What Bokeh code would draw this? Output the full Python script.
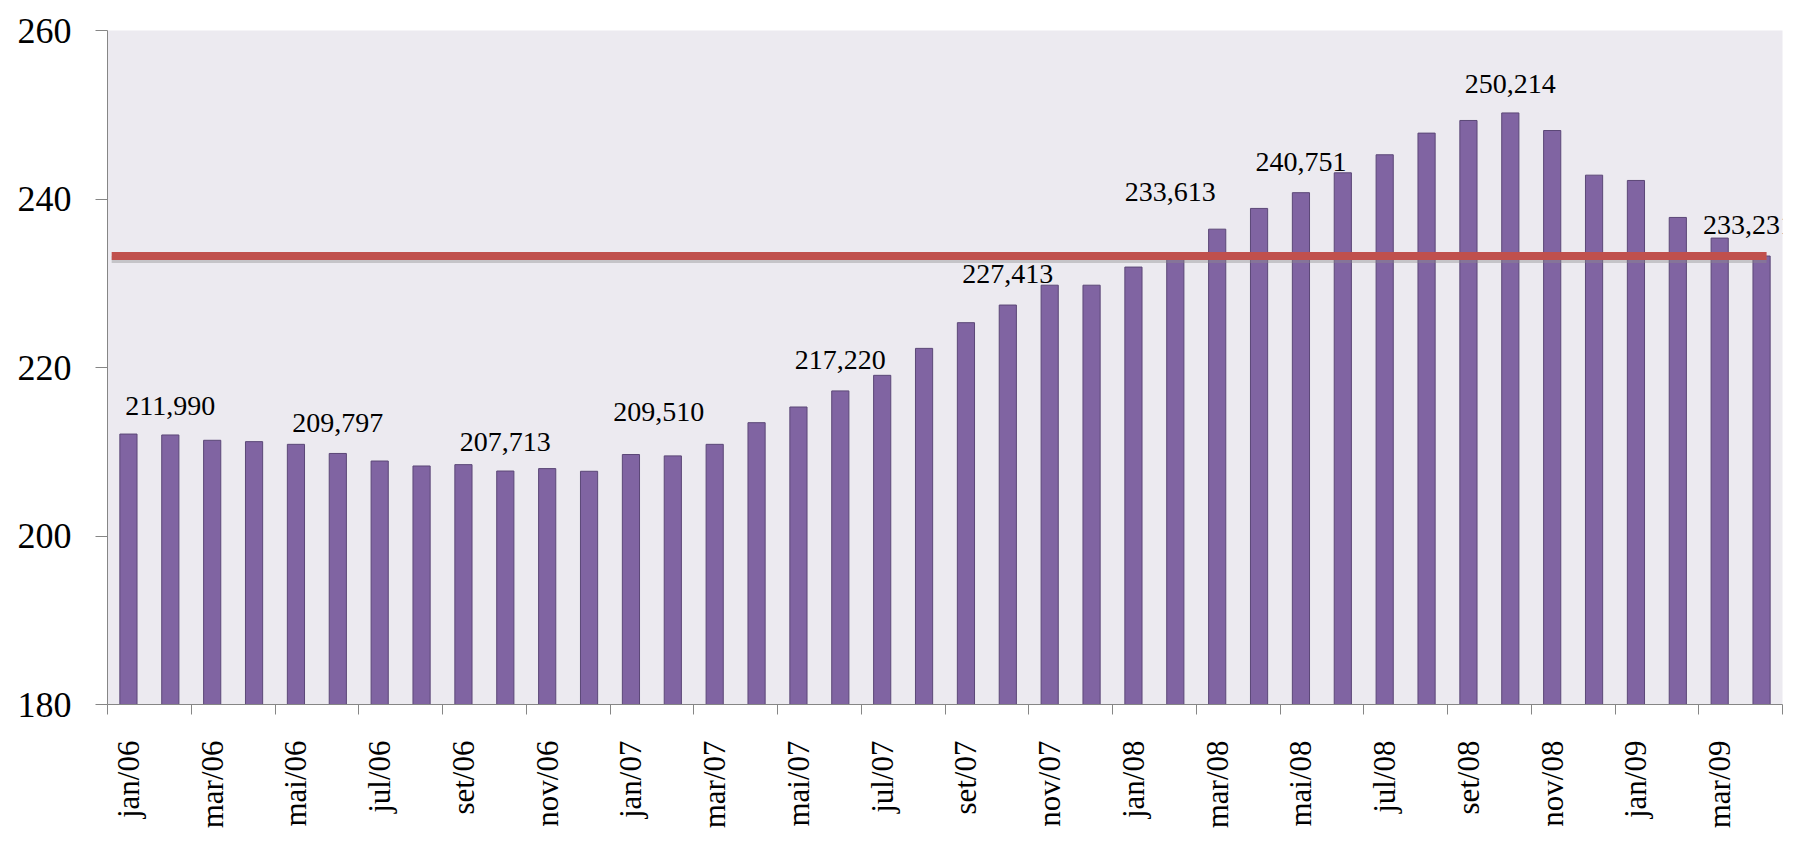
from bokeh.plotting import figure
from bokeh.models import ColumnDataSource, FixedTicker, LabelSet, Range1d
from bokeh.embed import file_html
from bokeh.resources import INLINE

months = ["jan/06", "fev/06", "mar/06", "abr/06", "mai/06", "jun/06", "jul/06", "ago/06",
          "set/06", "out/06", "nov/06", "dez/06",
          "jan/07", "fev/07", "mar/07", "abr/07", "mai/07", "jun/07", "jul/07", "ago/07",
          "set/07", "out/07", "nov/07", "dez/07",
          "jan/08", "fev/08", "mar/08", "abr/08", "mai/08", "jun/08", "jul/08", "ago/08",
          "set/08", "out/08", "nov/08", "dez/08",
          "jan/09", "fev/09", "mar/09", "abr/09"]

values = [212.10, 211.990, 211.36, 211.20, 210.88, 209.797, 208.90, 208.31,
          208.47, 207.713, 208.00, 207.68,
          209.67, 209.510, 210.88, 213.45, 215.31, 217.220, 219.07, 222.27,
          225.32, 227.413, 229.77, 229.77,
          231.92, 233.613, 236.42, 238.88, 240.751, 243.11, 245.25, 247.82,
          249.32, 250.214, 248.13, 242.83,
          242.20, 237.81, 235.36, 233.231]

label_index = [1, 5, 9, 13, 17, 21, 25, 28, 33, 39]
label_text = ["211,990", "209,797", "207,713", "209,510", "217,220",
              "227,413", "233,613", "240,751", "250,214", "233,231"]

y_ticks = [180, 200, 220, 240, 260]

# layout-only offsets for the value labels (pixels)
label_dx = [0, 0, 0, -14, 0, 0, -5, 0, 0, -13]
label_dy = [20, 21, 20, 35, 22, 22, 52, 22, 20, 22]

reference_value = values[-1]
n = len(months)
idx = list(range(n))

FONT = "Liberation Serif"

p = figure(width=1802, height=844, output_backend="svg", toolbar_location=None,
           x_range=Range1d(-0.5, n - 0.5), y_range=Range1d(y_ticks[0], y_ticks[-1]),
           min_border_left=107, min_border_right=20, min_border_top=30, min_border_bottom=140)

p.background_fill_color = "#ECEAF0"
p.border_fill_color = "white"
p.outline_line_color = None
p.xgrid.grid_line_color = None
p.ygrid.grid_line_color = None

src = ColumnDataSource(dict(x=idx, top=values))
p.vbar(x="x", top="top", bottom=y_ticks[0], width=0.41, source=src,
       fill_color="#8064A2", line_color="#5B4777", line_width=1)

# reference line at the last value, with a soft shadow
p.segment(x0=-0.4, y0=reference_value - 0.4, x1=n - 1 + 0.12, y1=reference_value - 0.4,
          line_color="#8c8c8c", line_alpha=0.4, line_width=7)
p.segment(x0=-0.4, y0=reference_value, x1=n - 1 + 0.12, y1=reference_value,
          line_color="#C0504D", line_width=8)

lab_src = ColumnDataSource(dict(
    x=label_index,
    y=[values[i] for i in label_index],
    text=label_text,
    dx=label_dx,
    dy=label_dy,
))
labels = LabelSet(x="x", y="y", text="text", source=lab_src,
                  x_offset="dx", y_offset="dy",
                  text_font=FONT, text_font_size="28px", text_color="black",
                  text_align="center", text_baseline="alphabetic")
p.add_layout(labels)

# x axis: labels on every other month, ticks at category boundaries
xa = p.xaxis[0]
xa.ticker = FixedTicker(ticks=list(range(0, n, 2)),
                        minor_ticks=[i - 0.5 for i in range(0, n + 1, 2)])
xa.major_label_overrides = {i: months[i] for i in range(0, n, 2)}
xa.major_label_orientation = 3.14159265 / 2
xa.major_tick_line_color = None
xa.minor_tick_line_color = "#868686"
xa.minor_tick_in = 0
xa.minor_tick_out = 10
xa.axis_line_color = "#868686"
xa.major_label_text_font = FONT
xa.major_label_text_font_size = "31px"
xa.major_label_text_color = "black"
xa.major_label_standoff = 26

ya = p.yaxis[0]
ya.ticker = FixedTicker(ticks=y_ticks)
ya.axis_line_color = "#868686"
ya.major_tick_line_color = "#868686"
ya.major_tick_in = 0
ya.major_tick_out = 12
ya.minor_tick_line_color = None
ya.major_label_text_font = FONT
ya.major_label_text_font_size = "36px"
ya.major_label_text_color = "black"
ya.major_label_standoff = 24

open("out.html", "w").write(file_html(p, INLINE))
